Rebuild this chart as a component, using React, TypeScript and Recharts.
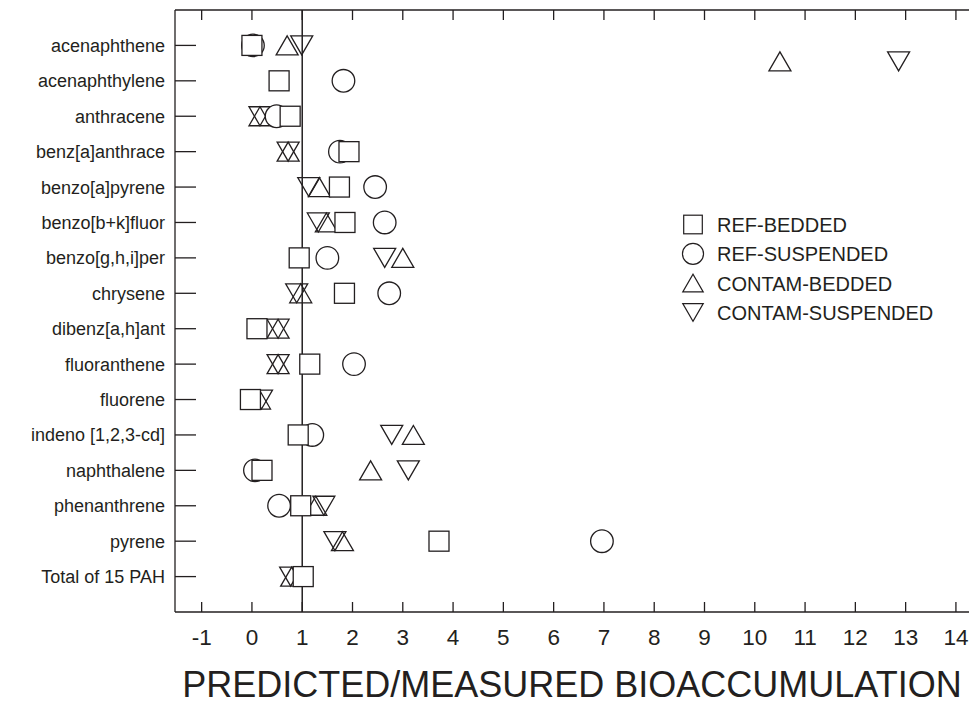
import React from 'react'
import { ScatterChart, Scatter, XAxis, YAxis, ReferenceLine, Legend } from 'recharts'

const compounds = [
  'acenaphthene',
  'acenaphthylene',
  'anthracene',
  'benz[a]anthrace',
  'benzo[a]pyrene',
  'benzo[b+k]fluor',
  'benzo[g,h,i]per',
  'chrysene',
  'dibenz[a,h]ant',
  'fluoranthene',
  'fluorene',
  'indeno [1,2,3-cd]',
  'naphthalene',
  'phenanthrene',
  'pyrene',
  'Total of 15 PAH',
]

// predicted / measured ratios, one per compound (null = not shown)
const refBedded = [0.0, 0.54, 0.76, 1.93, 1.74, 1.85, 0.94, 1.84, 0.1, 1.15, -0.03, 0.92, 0.2, 0.97, 3.72, 1.02]
const refSuspended = [0.02, 1.82, 0.49, 1.75, 2.45, 2.64, 1.5, 2.73, null, 2.03, null, 1.2, 0.06, 0.54, 6.96, null]
const contamBedded = [0.7, null, 0.16, 0.72, 1.34, 1.48, 3.0, 0.97, 0.52, 0.52, 0.15, 3.21, 2.36, 1.27, 1.8, 0.79]
const contamSuspended = [0.99, null, 0.16, 0.72, 1.13, 1.32, 2.64, 0.89, 0.52, 0.52, 0.19, 2.78, 3.11, 1.43, 1.65, 0.77]

// off-scale acenaphthene values, plotted a bit below the row
const contamBeddedOutlier = [{ x: 10.5, y: 1.45 }]
const contamSuspendedOutlier = [{ x: 12.86, y: 1.45 }]

const xTicks = [-1, 0, 1, 2, 3, 4, 5, 6, 7, 8, 9, 10, 11, 12, 13, 14]
const rowTicks = compounds.map((_, i) => i + 1)

const INK = '#231f20'
const FONT = '"Liberation Sans", Arial, sans-serif'

const toPoints = (vals: (number | null)[]) =>
  vals.flatMap((v, i) => (v === null ? [] : [{ x: v, y: i + 1 }]))

const Square = ({ cx, cy }: any) => (
  <rect x={cx - 10} y={cy - 10} width={20} height={20} fill="#fff" stroke={INK} strokeWidth={1.3} />
)
const Circle = ({ cx, cy }: any) => (
  <circle cx={cx} cy={cy} r={11.3} fill="#fff" stroke={INK} strokeWidth={1.3} />
)
const TriUp = ({ cx, cy }: any) => (
  <path d={`M${cx - 11},${cy + 9.5} L${cx + 11},${cy + 9.5} L${cx},${cy - 9.5} Z`} fill="none" stroke={INK} strokeWidth={1.3} />
)
const TriDown = ({ cx, cy }: any) => (
  <path d={`M${cx - 11},${cy - 9.5} L${cx + 11},${cy - 9.5} L${cx},${cy + 9.5} Z`} fill="none" stroke={INK} strokeWidth={1.3} />
)

const BottomTick = ({ x, y, payload }: any) => (
  <g>
    <line x1={x} x2={x} y1={y} y2={y - 10} stroke={INK} strokeWidth={1.3} />
    <text x={x} y={y + 33} textAnchor="middle" fontSize={22.5} fill={INK} fontFamily={FONT}>
      {payload.value}
    </text>
  </g>
)

const TopTick = ({ x, y }: any) => (
  <line x1={x} x2={x} y1={y} y2={y + 10} stroke={INK} strokeWidth={1.3} />
)

const LeftTick = ({ x, y, payload }: any) => (
  <g>
    <line x1={x + 10} x2={x + 31} y1={y} y2={y} stroke={INK} strokeWidth={1.3} />
    <text x={x} y={y + 6.5} textAnchor="end" fontSize={18} fill={INK} fontFamily={FONT}>
      {compounds[payload.value - 1]}
    </text>
  </g>
)

const legendItems = [
  { name: 'REF-BEDDED', Shape: Square },
  { name: 'REF-SUSPENDED', Shape: Circle },
  { name: 'CONTAM-BEDDED', Shape: TriUp },
  { name: 'CONTAM-SUSPENDED', Shape: TriDown },
]

const LegendBox = () => (
  <svg width={290} height={120}>
    {legendItems.map(({ name, Shape }, i) => {
      const cy = 13.5 + i * 29.3
      return (
        <g key={name}>
          <g transform={`translate(18 ${cy}) scale(0.93)`}>
            <Shape cx={0} cy={0} />
          </g>
          <text x={42} y={cy + 7.5} fontSize={20} fill={INK} fontFamily={FONT}>
            {name}
          </text>
        </g>
      )
    })}
  </svg>
)

export default function App() {
  const domain: [number, number] = [-1.53, 14.26]
  return (
    <div style={{ position: 'absolute', left: 0, top: 0, width: 969, height: 709, overflow: 'hidden', background: '#fff' }}>
      <ScatterChart width={969} height={709} margin={{ top: 0, right: 0, bottom: 0, left: 0 }}>
        <XAxis
          xAxisId="top"
          orientation="top"
          type="number"
          dataKey="x"
          domain={domain}
          ticks={xTicks}
          allowDataOverflow
          height={10}
          tickSize={0}
          tickMargin={0}
          tickLine={false}
          tick={TopTick}
          axisLine={{ stroke: INK, strokeWidth: 1.3 }}
        />
        <XAxis
          xAxisId="bottom"
          type="number"
          dataKey="x"
          domain={domain}
          ticks={xTicks}
          allowDataOverflow
          height={97}
          tickSize={0}
          tickMargin={0}
          tickLine={false}
          tick={BottomTick}
          axisLine={{ stroke: INK, strokeWidth: 1.3 }}
          label={{
            value: 'PREDICTED/MEASURED BIOACCUMULATION',
            position: 'insideBottom',
            offset: 12,
            style: { fontSize: 36, fill: INK, fontFamily: FONT },
          }}
        />
        <YAxis
          yAxisId="y"
          type="number"
          dataKey="y"
          domain={[0, 17]}
          reversed
          ticks={rowTicks}
          width={175}
          tickSize={0}
          tickMargin={10}
          tickLine={false}
          tick={LeftTick}
          axisLine={{ stroke: INK, strokeWidth: 1.3 }}
        />
        <ReferenceLine xAxisId="bottom" yAxisId="y" x={1} stroke={INK} strokeWidth={1.5} />
        <Legend
          layout="horizontal"
          verticalAlign="middle"
          align="center"
          content={LegendBox}
          wrapperStyle={{ position: 'absolute', left: 675, top: 211, width: 290 }}
        />
        <Scatter name="CONTAM-BEDDED" xAxisId="bottom" yAxisId="y" data={[...toPoints(contamBedded), ...contamBeddedOutlier]} shape={TriUp} isAnimationActive={false} />
        <Scatter name="CONTAM-SUSPENDED" xAxisId="bottom" yAxisId="y" data={[...toPoints(contamSuspended), ...contamSuspendedOutlier]} shape={TriDown} isAnimationActive={false} />
        <Scatter name="REF-SUSPENDED" xAxisId="bottom" yAxisId="y" data={toPoints(refSuspended)} shape={Circle} isAnimationActive={false} />
        <Scatter name="REF-BEDDED" xAxisId="bottom" yAxisId="y" data={toPoints(refBedded)} shape={Square} isAnimationActive={false} />
      </ScatterChart>
    </div>
  )
}
